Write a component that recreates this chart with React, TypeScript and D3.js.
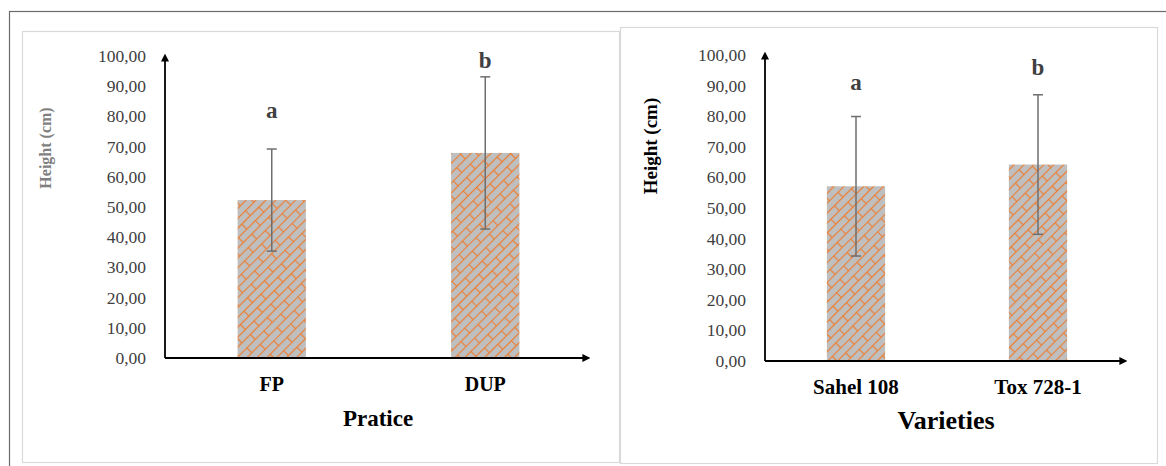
import React from "react";
import * as d3 from "d3";

// left chart: farming practice
const practiceCats = ["FP", "DUP"];
const practiceMeans = [52.3, 67.9];
const practiceErrors = [16.9, 25.2];
const practiceLetters = ["a", "b"];
const practiceLetterAt = [82, 98.5];

// right chart: varieties
const varietyCats = ["Sahel 108", "Tox 728-1"];
const varietyMeans = [57.1, 64.2];
const varietyErrors = [22.8, 22.8];
const varietyLetters = ["a", "b"];
const varietyLetterAt = [91, 96];

const yTicks = [0, 10, 20, 30, 40, 50, 60, 70, 80, 90, 100];
const fmt = (v: number) => v.toFixed(2).replace(".", ",");

const FONT = "'Liberation Serif', 'Times New Roman', serif";

function Panel(props: any) {
  const { id, cats, means, errors, letters, letterAt, box, frame } = props;

  const y = d3.scaleLinear().domain([0, 100]).range([box.y0, box.y100]);
  const x = d3.scaleBand().domain(cats).range([box.x0, box.x1]);
  const barW = x.bandwidth() * 0.32;

  return (
    <g>
      <rect
        x={frame.x + 0.5}
        y={frame.y + 0.5}
        width={frame.w}
        height={frame.h}
        fill="#fff"
        stroke="#d9d9d9"
        strokeWidth={1.2}
      />
      {/* bars */}
      {cats.map((c: string, i: number) => {
        const cx = (x(c) as number) + x.bandwidth() / 2;
        return (
          <rect
            key={c}
            x={cx - barW / 2}
            y={y(means[i])}
            width={barW}
            height={y(0) - y(means[i])}
            fill={`url(#brick-${id})`}
          />
        );
      })}
      {/* error bars */}
      {cats.map((c: string, i: number) => {
        const cx = (x(c) as number) + x.bandwidth() / 2;
        const hi = y(means[i] + errors[i]);
        const lo = y(means[i] - errors[i]);
        return (
          <g key={c + "e"} stroke="#6e6e6e" strokeWidth={1.5}>
            <line x1={cx} x2={cx} y1={hi} y2={lo} />
            <line x1={cx - 5} x2={cx + 5} y1={hi} y2={hi} />
            <line x1={cx - 5} x2={cx + 5} y1={lo} y2={lo} />
          </g>
        );
      })}
      {/* significance letters */}
      {cats.map((c: string, i: number) => (
        <text
          key={c + "l"}
          x={(x(c) as number) + x.bandwidth() / 2}
          y={y(letterAt[i])}
          textAnchor="middle"
          dominantBaseline="central"
          fontFamily={FONT}
          fontWeight="bold"
          fontSize={23}
          fill="#404040"
        >
          {letters[i]}
        </text>
      ))}
      {/* y tick labels */}
      {yTicks.map((t) => (
        <text
          key={t}
          x={box.x0 - 19}
          y={y(t)}
          textAnchor="end"
          dominantBaseline="central"
          fontFamily={FONT}
          fontSize={17.5}
          fill="#404040"
        >
          {fmt(t)}
        </text>
      ))}
      {/* axes with arrows */}
      <line
        x1={box.x0}
        y1={y(0)}
        x2={box.x0}
        y2={box.yTop + 8}
        stroke="#000"
        strokeWidth={1.8}
        markerEnd="url(#arrow)"
      />
      <line
        x1={box.x0}
        y1={y(0)}
        x2={box.x1 - 8}
        y2={y(0)}
        stroke="#000"
        strokeWidth={1.8}
        markerEnd="url(#arrow)"
      />
      {/* category labels */}
      {cats.map((c: string) => (
        <text
          key={c + "c"}
          x={(x(c) as number) + x.bandwidth() / 2}
          y={y(0) + 26}
          textAnchor="middle"
          dominantBaseline="central"
          fontFamily={FONT}
          fontWeight="bold"
          fontSize={props.catSize}
          fill="#000"
        >
          {c}
        </text>
      ))}
      <text
        x={props.xTitle.x}
        y={props.xTitle.y}
        textAnchor="middle"
        dominantBaseline="central"
        fontFamily={FONT}
        fontWeight="bold"
        fontSize={props.xTitle.size}
        fill="#000"
      >
        {props.xTitle.text}
      </text>
      <text
        transform={`translate(${props.yTitle.x},${props.yTitle.y}) rotate(-90)`}
        textAnchor="middle"
        dominantBaseline="central"
        fontFamily={FONT}
        fontWeight="bold"
        fontSize={props.yTitle.size}
        fill={props.yTitle.color}
      >
        Height (cm)
      </text>
    </g>
  );
}

export default function App() {
  const width = 1166,
    height = 466;

  const brick = (id: string) => (
    <pattern
      id={`brick-${id}`}
      patternUnits="userSpaceOnUse"
      width={24}
      height={14}
      patternTransform="rotate(-45)"
    >
      <rect width={24} height={14} fill="#bfbfbf" />
      <g stroke="#ed7d31" strokeWidth={1.2} fill="none">
        <line x1={0} y1={0.5} x2={24} y2={0.5} />
        <line x1={0} y1={7.5} x2={24} y2={7.5} />
        <line x1={0.5} y1={0} x2={0.5} y2={7} />
        <line x1={12.5} y1={7} x2={12.5} y2={14} />
      </g>
    </pattern>
  );

  return (
    <svg
      width={width}
      height={height}
      style={{ position: "absolute", left: 0, top: 0, background: "#fff" }}
    >
      <defs>
        {brick("left")}
        {brick("right")}
        <marker
          id="arrow"
          viewBox="0 0 10 10"
          refX={2}
          refY={5}
          markerWidth={8}
          markerHeight={8}
          markerUnits="userSpaceOnUse"
          orient="auto"
        >
          <path d="M0,0 L10,5 L0,10 z" fill="#000" />
        </marker>
      </defs>
      <rect x={9.5} y={11.5} width={1170} height={470} fill="#fff" stroke="#6b6b6b" strokeWidth={1.2} />
      <Panel
        id="left"
        cats={practiceCats}
        means={practiceMeans}
        errors={practiceErrors}
        letters={practiceLetters}
        letterAt={practiceLetterAt}
        frame={{ x: 22, y: 31, w: 597, h: 431 }}
        box={{ x0: 165, x1: 592, y0: 358, y100: 56, yTop: 52 }}
        catSize={20}
        xTitle={{ text: "Pratice", x: 378, y: 418, size: 23 }}
        yTitle={{ x: 45, y: 148, size: 16, color: "#7f7f7f" }}
      />
      <Panel
        id="right"
        cats={varietyCats}
        means={varietyMeans}
        errors={varietyErrors}
        letters={varietyLetters}
        letterAt={varietyLetterAt}
        frame={{ x: 620, y: 27, w: 537, h: 436 }}
        box={{ x0: 765, x1: 1129, y0: 361, y100: 55, yTop: 50 }}
        catSize={21}
        xTitle={{ text: "Varieties", x: 946, y: 420, size: 26 }}
        yTitle={{ x: 650, y: 146, size: 19, color: "#000" }}
      />
    </svg>
  );
}
